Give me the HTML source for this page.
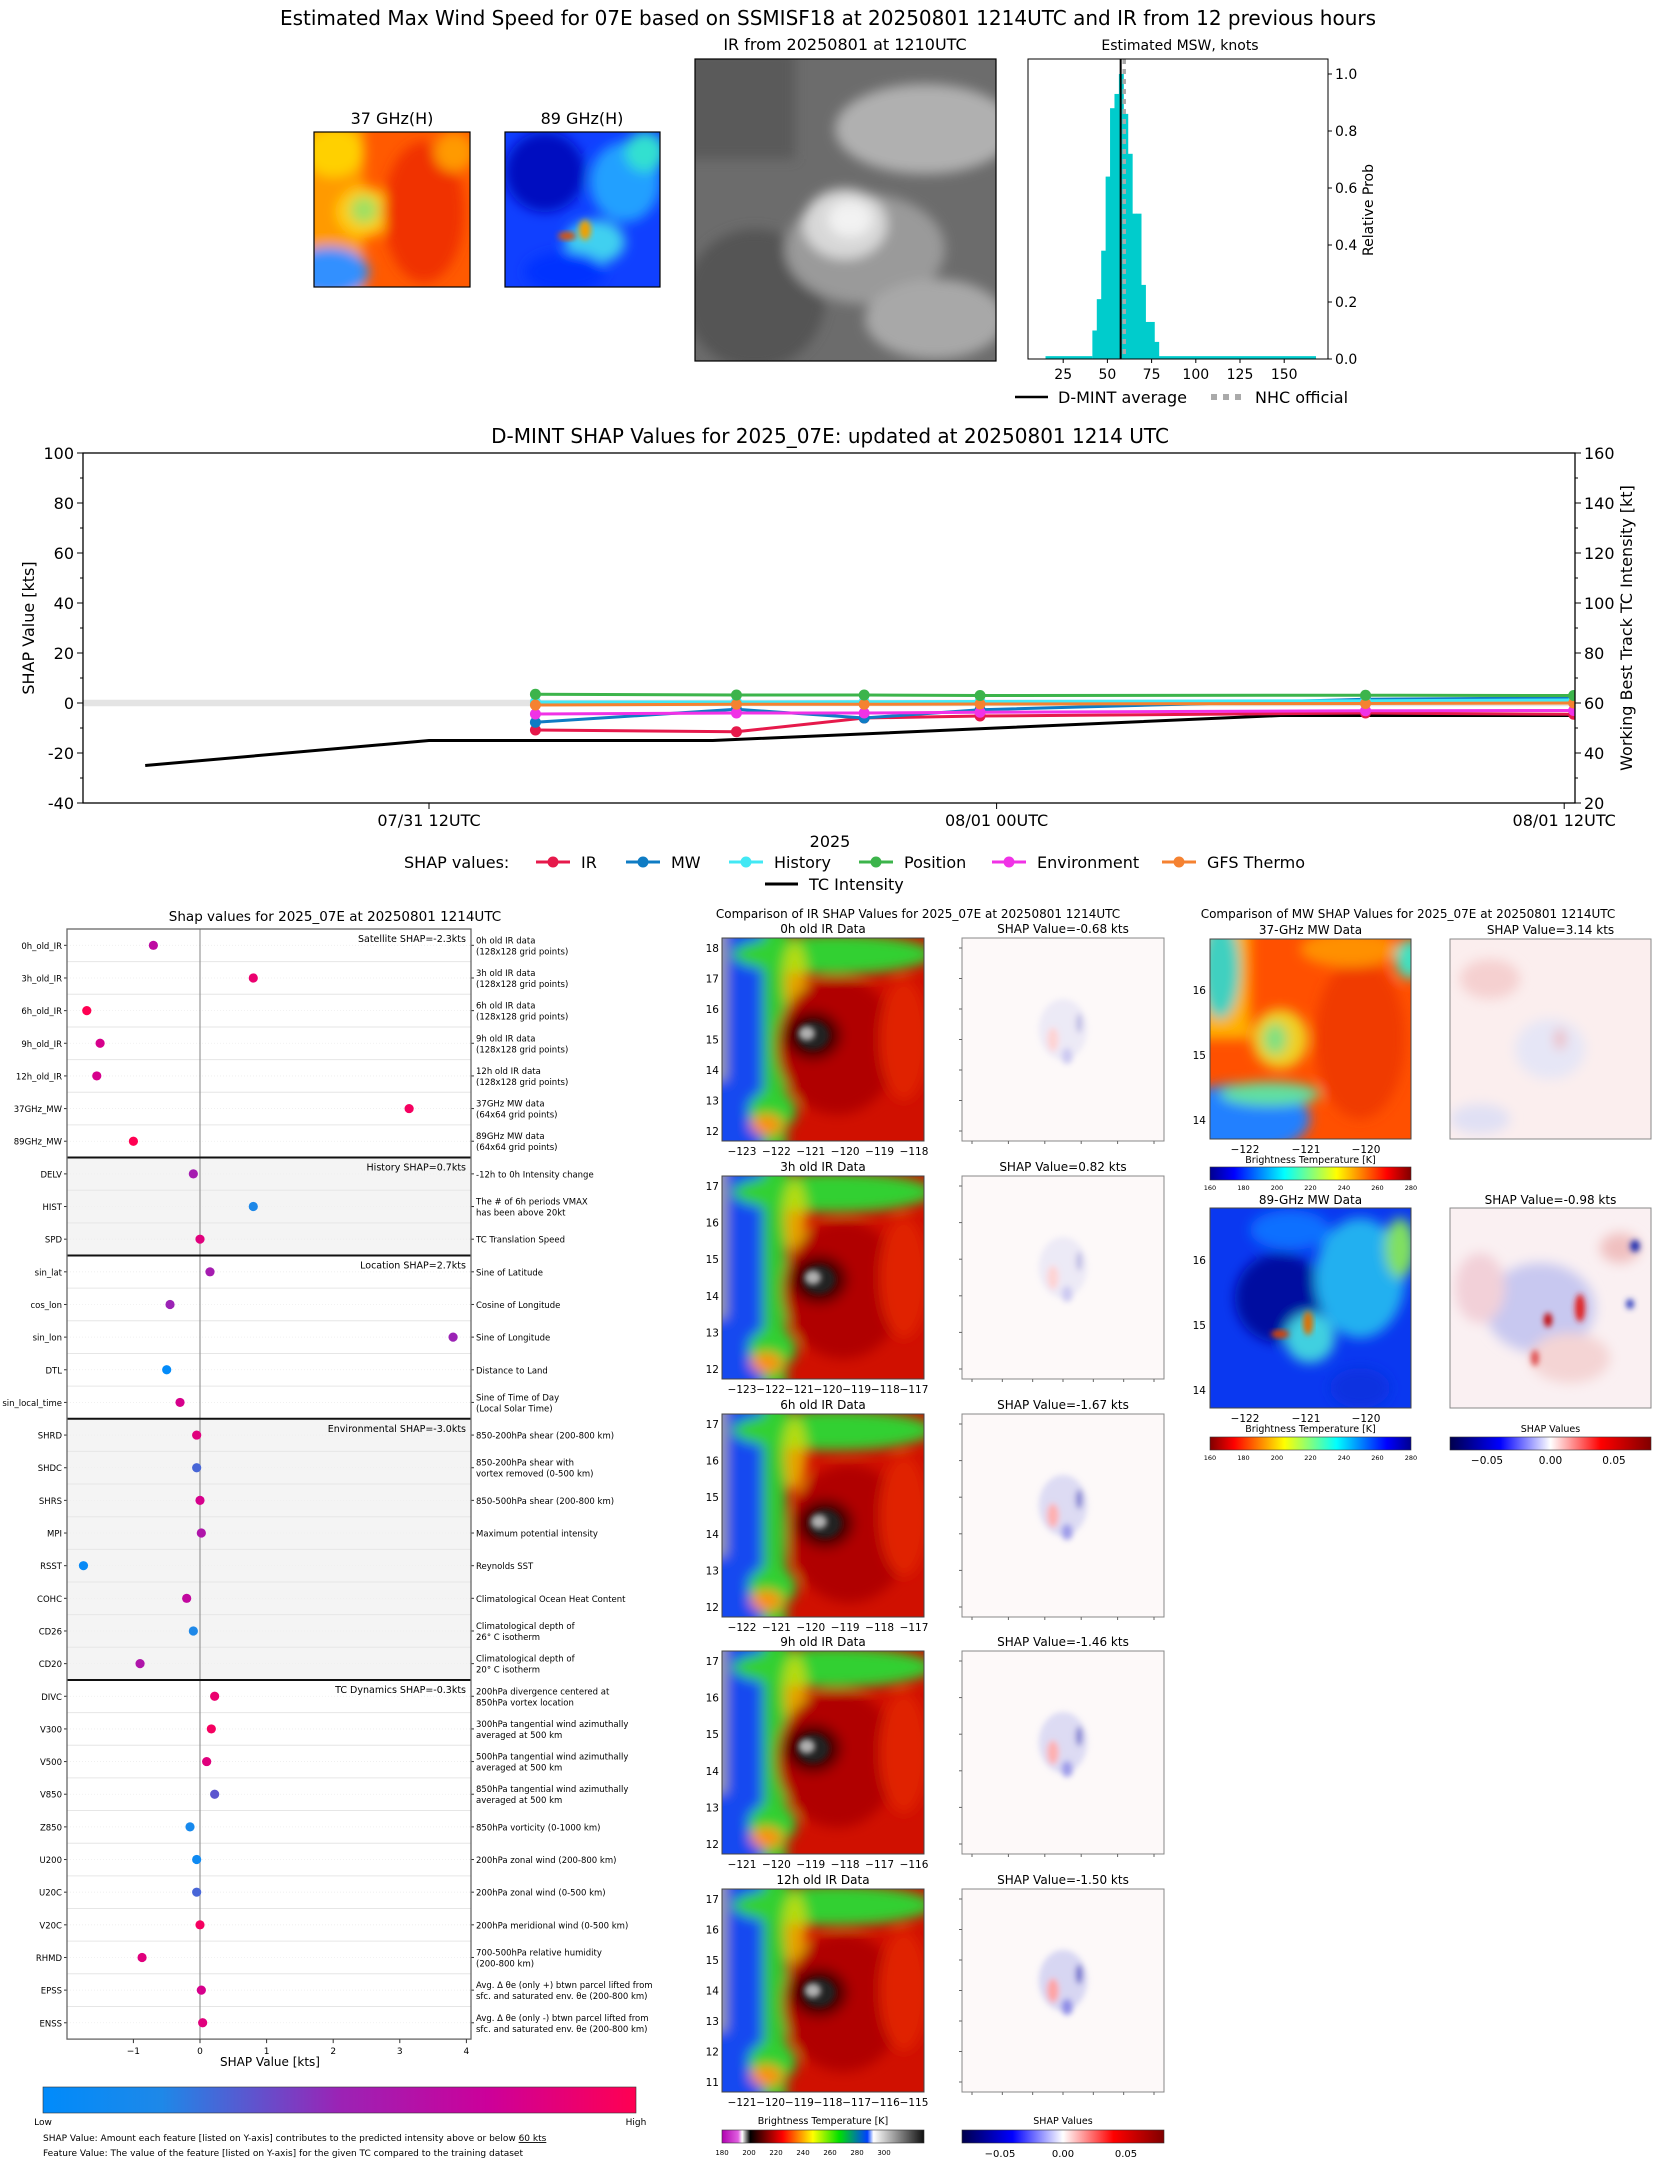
<!DOCTYPE html>
<html><head><meta charset="utf-8">
<style>
html,body{margin:0;padding:0;background:#fff;}
svg{display:block;font-family:"DejaVu Sans","Liberation Sans",sans-serif;}
</style></head>
<body>
<svg id="fig" xmlns="http://www.w3.org/2000/svg" width="1655" height="2158" viewBox="0 0 1655 2158">
<defs>
  <filter id="blur6" x="-30%" y="-30%" width="160%" height="160%"><feGaussianBlur stdDeviation="6"/></filter>
  <filter id="blur3" x="-30%" y="-30%" width="160%" height="160%"><feGaussianBlur stdDeviation="3"/></filter>
  <linearGradient id="cbShap" x1="0" x2="1" y1="0" y2="0">
    <stop offset="0" stop-color="#008bfb"/><stop offset="0.2" stop-color="#1e88e8"/><stop offset="0.5" stop-color="#9b23b5"/><stop offset="0.75" stop-color="#cc009a"/><stop offset="1" stop-color="#ff0052"/>
  </linearGradient>
  <linearGradient id="cbIR" x1="0" x2="1" y1="0" y2="0">
    <stop offset="0" stop-color="#b000b0"/><stop offset="0.08" stop-color="#e060e0"/><stop offset="0.1" stop-color="#ffffff"/><stop offset="0.14" stop-color="#000000"/><stop offset="0.3" stop-color="#ff0000"/><stop offset="0.45" stop-color="#ffff00"/><stop offset="0.58" stop-color="#00e000"/><stop offset="0.72" stop-color="#0040ff"/><stop offset="0.75" stop-color="#ffffff"/><stop offset="1" stop-color="#101010"/>
  </linearGradient>
  <linearGradient id="cbSV" x1="0" x2="1" y1="0" y2="0">
    <stop offset="0" stop-color="#00004c"/><stop offset="0.25" stop-color="#0000ff"/><stop offset="0.5" stop-color="#ffffff"/><stop offset="0.75" stop-color="#ff0000"/><stop offset="1" stop-color="#800000"/>
  </linearGradient>
  <linearGradient id="cbJet" x1="0" x2="1" y1="0" y2="0">
    <stop offset="0" stop-color="#00008f"/><stop offset="0.12" stop-color="#0000ff"/><stop offset="0.37" stop-color="#00ffff"/><stop offset="0.5" stop-color="#80ff80"/><stop offset="0.63" stop-color="#ffff00"/><stop offset="0.88" stop-color="#ff0000"/><stop offset="1" stop-color="#800000"/>
  </linearGradient>
  <linearGradient id="cbJetR" x1="1" x2="0" y1="0" y2="0">
    <stop offset="0" stop-color="#00008f"/><stop offset="0.12" stop-color="#0000ff"/><stop offset="0.37" stop-color="#00ffff"/><stop offset="0.5" stop-color="#80ff80"/><stop offset="0.63" stop-color="#ffff00"/><stop offset="0.88" stop-color="#ff0000"/><stop offset="1" stop-color="#800000"/>
  </linearGradient>
  <clipPath id="clipTS"><rect x="83" y="453" width="1492" height="350"/></clipPath>
</defs>

<text x="828" y="25" font-size="20" text-anchor="middle">Estimated Max Wind Speed for 07E based on SSMISF18 at 20250801 1214UTC and IR from 12 previous hours</text>

<text x="392" y="124" font-size="16" text-anchor="middle">37 GHz(H)</text>
<g>
  <svg x="314" y="132" width="156" height="155" overflow="hidden">
    <rect width="156" height="155" fill="#ff5a00"/>
    <g filter="url(#blur6)">
      <rect x="-10" y="-10" width="60" height="180" fill="#ff9a00"/>
      <ellipse cx="20" cy="20" rx="30" ry="25" fill="#ffd000"/>
      <ellipse cx="50" cy="80" rx="28" ry="25" fill="#ffcc10"/>
      <ellipse cx="50" cy="78" rx="14" ry="14" fill="#a0e060"/>
      <ellipse cx="15" cy="140" rx="40" ry="25" fill="#3090ff"/>
      <ellipse cx="110" cy="80" rx="40" ry="70" fill="#f03000"/>
      <ellipse cx="140" cy="20" rx="20" ry="20" fill="#ff9a00"/>
    </g>
  </svg>
  <rect x="314" y="132" width="156" height="155" fill="none" stroke="#000" stroke-width="1.2"/>
</g>
<text x="582" y="124" font-size="16" text-anchor="middle">89 GHz(H)</text>
<g>
  <svg x="505" y="132" width="155" height="155" overflow="hidden">
    <rect width="155" height="155" fill="#1040ff"/>
    <g filter="url(#blur6)">
      <ellipse cx="40" cy="40" rx="40" ry="40" fill="#0010c0"/>
      <ellipse cx="120" cy="50" rx="35" ry="40" fill="#20a0ff"/>
      <ellipse cx="90" cy="110" rx="30" ry="22" fill="#40d0f0"/>
      <ellipse cx="140" cy="20" rx="20" ry="20" fill="#30e0d0"/>
      <ellipse cx="60" cy="140" rx="40" ry="20" fill="#0030ff"/>
    </g>
    <ellipse cx="62" cy="104" rx="9" ry="4" fill="#e05000" filter="url(#blur3)"/>
    <ellipse cx="80" cy="98" rx="6" ry="10" fill="#f0a000" filter="url(#blur3)"/>
  </svg>
  <rect x="505" y="132" width="155" height="155" fill="none" stroke="#000" stroke-width="1.2"/>
</g>
<text x="845" y="50" font-size="16" text-anchor="middle">IR from 20250801 at 1210UTC</text>
<g>
  <svg x="695" y="59" width="301" height="302" overflow="hidden">
    <rect width="301" height="302" fill="#6c6c6c"/>
    <g filter="url(#blur6)">
      <rect x="-10" y="-10" width="110" height="110" fill="#5a5a5a"/>
      <ellipse cx="60" cy="240" rx="70" ry="70" fill="#555"/>
      <ellipse cx="230" cy="70" rx="90" ry="45" fill="#b0b0b0"/>
      <ellipse cx="170" cy="190" rx="80" ry="55" fill="#9a9a9a"/>
      <ellipse cx="150" cy="165" rx="42" ry="35" fill="#d8d8d8"/>
      <ellipse cx="155" cy="160" rx="22" ry="18" fill="#f2f2f2"/>
      <ellipse cx="240" cy="260" rx="70" ry="40" fill="#a8a8a8"/>
    </g>
  </svg>
  <rect x="695" y="59" width="301" height="302" fill="none" stroke="#000" stroke-width="1.2"/>
</g>

<g id="hist"></g>
<text x="1180" y="50" font-size="14" text-anchor="middle">Estimated MSW, knots</text>
<text x="1373" y="210" font-size="14" text-anchor="middle" transform="rotate(-90 1373 210)">Relative Prob</text>
<g>
  <line x1="1015" y1="397" x2="1048" y2="397" stroke="#000" stroke-width="2.5"/>
  <text x="1058" y="403" font-size="16">D-MINT average</text>
  <line x1="1211" y1="397" x2="1244" y2="397" stroke="#aaa" stroke-width="6" stroke-dasharray="6,6"/>
  <text x="1255" y="403" font-size="16">NHC official</text>
</g>

<text x="830" y="443" font-size="20" text-anchor="middle">D-MINT SHAP Values for 2025_07E: updated at 20250801 1214 UTC</text>
<g id="ts"></g>
<text x="34" y="628" font-size="16" text-anchor="middle" transform="rotate(-90 34 628)">SHAP Value [kts]</text>
<text x="1632" y="628" font-size="16" text-anchor="middle" transform="rotate(-90 1632 628)">Working Best Track TC Intensity [kt]</text>
<text x="830" y="847" font-size="16" text-anchor="middle">2025</text>
<g id="tsLegend">
  <text x="404" y="868" font-size="16">SHAP values:</text>
</g>

<text x="335" y="921" font-size="13.5" text-anchor="middle">Shap values for 2025_07E at 20250801 1214UTC</text>
<g id="feat"></g>
<text x="270" y="2066" font-size="12" text-anchor="middle">SHAP Value [kts]</text>
<rect x="43" y="2087" width="593" height="26" fill="url(#cbShap)" stroke="#333" stroke-width="0.6"/>
<text x="43" y="2125" font-size="9" text-anchor="middle">Low</text>
<text x="636" y="2125" font-size="9" text-anchor="middle">High</text>
<text x="43" y="2141" font-size="9">SHAP Value: Amount each feature [listed on Y-axis] contributes to the predicted intensity above or below <tspan text-decoration="underline">60 kts</tspan></text>
<text x="43" y="2156" font-size="9">Feature Value: The value of the feature [listed on Y-axis] for the given TC compared to the training dataset</text>

<text x="918" y="918" font-size="12" text-anchor="middle">Comparison of IR SHAP Values for 2025_07E at 20250801 1214UTC</text>
<g id="irc"></g>
<text x="823" y="2124" font-size="9.5" text-anchor="middle">Brightness Temperature [K]</text>
<rect x="722" y="2130" width="202" height="13" fill="url(#cbIR)" stroke="#333" stroke-width="0.6"/>
<g font-size="7" text-anchor="middle">
  <text x="722" y="2155">180</text><text x="749" y="2155">200</text><text x="776" y="2155">220</text><text x="803" y="2155">240</text><text x="830" y="2155">260</text><text x="857" y="2155">280</text><text x="884" y="2155">300</text>
</g>
<text x="1063" y="2124" font-size="9.5" text-anchor="middle">SHAP Values</text>
<rect x="962" y="2130" width="202" height="13" fill="url(#cbSV)" stroke="#333" stroke-width="0.6"/>
<g font-size="10" text-anchor="middle">
  <text x="1000" y="2157">−0.05</text><text x="1063" y="2157">0.00</text><text x="1126" y="2157">0.05</text>
</g>

<text x="1408" y="918" font-size="12" text-anchor="middle">Comparison of MW SHAP Values for 2025_07E at 20250801 1214UTC</text>
<g id="mwc"></g>
</svg>

<script>
// ---------- data ----------
const histStart = 41.5;
const histWidth = 2.5;
const histHeights = [0.10,0.21,0.38,0.64,0.88,0.93,1.0,0.86,0.72,0.51,0.51,0.26,0.13,0.13,0.06];
const histTailLow = [15, 41.5];
const histTailHigh = [79, 168];
const histTailHeight = 0.01;
const dmintAverage = 57.5;
const nhcOfficial = 59.5;
const histXTicks = [25,50,75,100,125,150];
const histYTicks = [0.0,0.2,0.4,0.6,0.8,1.0];

const tsXTickHours = [0,12,24];
const tsXTickLabels = ['07/31 12UTC','08/01 00UTC','08/01 12UTC'];
const tsYTicks = [-40,-20,0,20,40,60,80,100];
const tsY2Ticks = [20,40,60,80,100,120,140,160];
const intensityHours = [-6,0,6,12,18,24.2];
const intensityKt = [35,45,45,50,55,55];
const shapHours = [2.25,6.5,9.2,11.65,19.8,24.2];
const shapIR = [-10.8,-11.5,-6.0,-5.2,-4.0,-4.5];
const shapMW = [-7.7,-2.5,-6.0,-2.7,1.5,2.0];
const shapHistory = [0.4,0.4,0.5,0.6,0.9,1.2];
const shapPosition = [3.5,3.2,3.2,3.0,3.1,3.0];
const shapEnvironment = [-4.4,-4.0,-4.0,-3.7,-3.1,-3.0];
const shapGFS = [-0.8,-0.5,-0.5,-0.4,-0.2,0.0];
const seriesNames = ['IR','MW','History','Position','Environment','GFS Thermo'];

const featureNames = ['0h_old_IR','3h_old_IR','6h_old_IR','9h_old_IR','12h_old_IR','37GHz_MW','89GHz_MW','DELV','HIST','SPD','sin_lat','cos_lon','sin_lon','DTL','sin_local_time','SHRD','SHDC','SHRS','MPI','RSST','COHC','CD26','CD20','DIVC','V300','V500','V850','Z850','U200','U20C','V20C','RHMD','EPSS','ENSS'];
const featureShap = [-0.7,0.8,-1.7,-1.5,-1.55,3.14,-1.0,-0.1,0.8,0.0,0.15,-0.45,3.8,-0.5,-0.3,-0.05,-0.05,0.0,0.02,-1.75,-0.2,-0.1,-0.9,0.22,0.17,0.1,0.22,-0.15,-0.05,-0.05,0.0,-0.87,0.02,0.04];
const featureValue = [0.68,0.9,1.0,0.8,0.8,0.95,1.0,0.55,0.2,0.85,0.55,0.5,0.5,0.02,0.8,0.85,0.3,0.8,0.6,0.05,0.7,0.2,0.6,0.9,0.95,0.85,0.35,0.15,0.1,0.3,0.95,0.85,0.8,0.85];
const featureDesc = ['0h old IR data|(128x128 grid points)','3h old IR data|(128x128 grid points)','6h old IR data|(128x128 grid points)','9h old IR data|(128x128 grid points)','12h old IR data|(128x128 grid points)','37GHz MW data|(64x64 grid points)','89GHz MW data|(64x64 grid points)','-12h to 0h Intensity change','The # of 6h periods VMAX|has been above 20kt','TC Translation Speed','Sine of Latitude','Cosine of Longitude','Sine of Longitude','Distance to Land','Sine of Time of Day|(Local Solar Time)','850-200hPa shear (200-800 km)','850-200hPa shear with|vortex removed (0-500 km)','850-500hPa shear (200-800 km)','Maximum potential intensity','Reynolds SST','Climatological Ocean Heat Content','Climatological depth of|26° C isotherm','Climatological depth of|20° C isotherm','200hPa divergence centered at|850hPa vortex location','300hPa tangential wind azimuthally|averaged at 500 km','500hPa tangential wind azimuthally|averaged at 500 km','850hPa tangential wind azimuthally|averaged at 500 km','850hPa vorticity (0-1000 km)','200hPa zonal wind (200-800 km)','200hPa zonal wind (0-500 km)','200hPa meridional wind (0-500 km)','700-500hPa relative humidity|(200-800 km)','Avg. Δ θe (only +) btwn parcel lifted from|sfc. and saturated env. θe (200-800 km)','Avg. Δ θe (only -) btwn parcel lifted from|sfc. and saturated env. θe (200-800 km)'];
const groupStarts = [0,7,10,15,23];
const groupLabels = ['Satellite SHAP=-2.3kts','History SHAP=0.7kts','Location SHAP=2.7kts','Environmental SHAP=-3.0kts','TC Dynamics SHAP=-0.3kts'];
const groupShaded = [false,true,false,true,false];
const featureXTicks = [-1,0,1,2,3,4];

const irTitles = ['0h old IR Data','3h old IR Data','6h old IR Data','9h old IR Data','12h old IR Data'];
const irShapTitles = ['SHAP Value=-0.68 kts','SHAP Value=0.82 kts','SHAP Value=-1.67 kts','SHAP Value=-1.46 kts','SHAP Value=-1.50 kts'];
const irYTicks = [[18,17,16,15,14,13,12],[17,16,15,14,13,12],[17,16,15,14,13,12],[17,16,15,14,13,12],[17,16,15,14,13,12,11]];
const irXTicks = [[-123,-122,-121,-120,-119,-118],[-123,-122,-121,-120,-119,-118,-117],[-122,-121,-120,-119,-118,-117],[-121,-120,-119,-118,-117,-116],[-121,-120,-119,-118,-117,-116,-115]];
const irShapStrength = [0.3,0.3,0.6,0.6,0.7];

// ---------- helpers ----------
const NS = 'http://www.w3.org/2000/svg';
const svg = document.getElementById('fig');
function mk(tag, attrs, parent){ const e = document.createElementNS(NS, tag); for (const k in attrs) e.setAttribute(k, attrs[k]); parent.appendChild(e); return e; }
function tx(parent, x, y, s, size, anchor){ const e = mk('text', {x:x, y:y, 'font-size':size, 'text-anchor':anchor||'start'}, parent); e.textContent = s; return e; }
const minus = v => String(v).replace('-', '\u2212');

// ---------- histogram ----------
(function(){
  const g = document.getElementById('hist');
  const L=1028, R=1328, T=59, B=359;
  const hx = k => 1019 + k*1.768;
  const hy = p => B - p*285;
  let r;
  r = mk('rect', {x:hx(histTailLow[0]), y:hy(histTailHeight), width:hx(histTailLow[1])-hx(histTailLow[0]), height:B-hy(histTailHeight), fill:'#00cccc'}, g);
  
  
  r = mk('rect', {x:hx(histTailHigh[0]), y:hy(histTailHeight), width:hx(histTailHigh[1])-hx(histTailHigh[0]), height:B-hy(histTailHeight), fill:'#00cccc'}, g);
  
  
  histHeights.forEach((h,i)=>{
    const a = histStart + i*histWidth;
    const b = mk('rect', {x:hx(a), y:hy(h), width:hx(a+histWidth)-hx(a)+0.5, height:B-hy(h), fill:'#00cccc'}, g);
    
    
  });
  const nl = mk('line', {x1:hx(nhcOfficial), x2:hx(nhcOfficial), y1:T, y2:B, stroke:'#aaa', 'stroke-width':3.5, 'stroke-dasharray':'5,5'}, g);
  
  
  const ml = mk('line', {x1:hx(dmintAverage), x2:hx(dmintAverage), y1:T, y2:B, stroke:'#000', 'stroke-width':2}, g);
  
  
  const fr = mk('rect', {x:L, y:T, width:R-L, height:B-T, fill:'none', stroke:'#000', 'stroke-width':1}, g);
  
  
  histXTicks.forEach(v=>{
    mk('line', {x1:hx(v), x2:hx(v), y1:B, y2:B+4, stroke:'#000'}, g);
    const t = tx(g, hx(v), B+20, String(v), 14, 'middle');
    
    
  });
  histYTicks.forEach(v=>{
    mk('line', {x1:R, x2:R+4, y1:hy(v), y2:hy(v), stroke:'#000'}, g);
    const t = tx(g, R+7, hy(v)+5, v.toFixed(1), 14, 'start');
    
    
  });
})();

// ---------- time series ----------
(function(){
  const g = document.getElementById('ts');
  const L=83, R=1575, T=453, B=803;
  const X = h => 429 + h*47.3;
  const Y = v => T + (100 - v)*2.5;
  const Y2 = kt => Y(kt - 60);
  const band = mk('rect', {x:L, y:Y(1.3), width:R-L, height:Y(-1.3)-Y(1.3), fill:'#e4e4e4'}, g);
  
  
  const clip = mk('g', {'clip-path':'url(#clipTS)'}, g);
  const ip = mk('polyline', {points:intensityHours.map((h,i)=>X(h)+','+Y2(intensityKt[i])).join(' '), fill:'none', stroke:'#000', 'stroke-width':3}, clip);
  
  
  const series = [shapIR, shapMW, shapHistory, shapPosition, shapEnvironment, shapGFS];
  const colors = ['#e6194b','#0f7cc4','#42e8f4','#3cb44b','#f032e6','#f58231'];
  const order = [0,1,4,2,5,3];
  order.forEach(si=>{
    const vals = series[si];
    const sg = mk('g', {}, clip);
    
    
    mk('polyline', {points:shapHours.map((h,i)=>X(h)+','+Y(vals[i])).join(' '), fill:'none', stroke:colors[si], 'stroke-width':3}, sg);
    shapHours.forEach((h,i)=>{
      const c = mk('circle', {cx:X(h), cy:Y(vals[i]), r:5.5, fill:colors[si]}, sg);
      
      
    });
  });
  const fr = mk('rect', {x:L, y:T, width:R-L, height:B-T, fill:'none', stroke:'#000', 'stroke-width':1.3}, g);
  
  
  for (let v=-40; v<=100; v+=10){ mk('line', {x1:L-(v%20===0?6:3), x2:L, y1:Y(v), y2:Y(v), stroke:'#000'}, g); }
  for (let k=20; k<=160; k+=10){ mk('line', {x1:R, x2:R+(k%20===0?6:3), y1:Y2(k), y2:Y2(k), stroke:'#000'}, g); }
  tsYTicks.forEach(v=>{
    const t = tx(g, L-9, Y(v)+6, String(v), 16, 'end');
    
    
  });
  tsY2Ticks.forEach(v=>{
    const t = tx(g, R+9, Y2(v)+6, String(v), 16, 'start');
    
    
  });
  tsXTickHours.forEach((h,i)=>{
    mk('line', {x1:X(h), x2:X(h), y1:B, y2:B+6, stroke:'#000'}, g);
    const t = tx(g, X(h), B+23, tsXTickLabels[i], 16, 'middle');
    
    
  });
  const lg = document.getElementById('tsLegend');
  const lx = [536,626,729,859,992,1162];
  seriesNames.forEach((n,i)=>{
    const e = mk('g', {}, lg);
    
    
    mk('line', {x1:lx[i], x2:lx[i]+34, y1:862, y2:862, stroke:colors[i], 'stroke-width':3}, e);
    mk('circle', {cx:lx[i]+17, cy:862, r:5.5, fill:colors[i]}, e);
    tx(e, lx[i]+45, 868, n, 16, 'start');
  });
  const ti = mk('g', {}, lg);
  
  
  mk('line', {x1:765, x2:798, y1:884, y2:884, stroke:'#000', 'stroke-width':3}, ti);
  tx(ti, 809, 890, 'TC Intensity', 16, 'start');
})();

// ---------- feature panel ----------
(function(){
  const g = document.getElementById('feat');
  const L=67, R=471, T=929, rowH=32.65;
  const B = T + rowH*featureNames.length;
  const X = v => 200 + v*66.6;
  const rowY = i => T + rowH*(i+0.5);
  const stops = [[0,[0,139,251]],[0.2,[30,136,232]],[0.5,[155,35,181]],[0.75,[204,0,154]],[1,[255,0,82]]];
  function cmap(v){ for (let k=1;k<stops.length;k++){ if (v<=stops[k][0]){ const a=stops[k-1], b=stops[k]; const f=(v-a[0])/(b[0]-a[0]); return 'rgb('+a[1].map((c,j)=>Math.round(c+(b[1][j]-c)*f)).join(',')+')'; } } return 'rgb(255,0,82)'; }
  groupStarts.forEach((s,gi)=>{
    const e = gi+1<groupStarts.length ? groupStarts[gi+1] : featureNames.length;
    if (groupShaded[gi]){
      const r = mk('rect', {x:L, y:T+s*rowH, width:R-L, height:(e-s)*rowH, fill:'#f4f4f4'}, g);
      
      
    }
  });
  featureNames.forEach((n,i)=>{
    mk('line', {x1:L, x2:R, y1:T+rowH*(i+1), y2:T+rowH*(i+1), stroke:'#e6e6e6', 'stroke-width':1}, g);
    mk('line', {x1:L, x2:R, y1:rowY(i), y2:rowY(i), stroke:'#eee', 'stroke-width':0.8, 'stroke-dasharray':'1,2'}, g);
  });
  mk('line', {x1:X(0), x2:X(0), y1:T, y2:B, stroke:'#999', 'stroke-width':1.2}, g);
  groupStarts.forEach((s,gi)=>{
    if (s>0){ const l = mk('line', {x1:L, x2:R, y1:T+s*rowH, y2:T+s*rowH, stroke:'#111', 'stroke-width':2}, g);
      
       }
    const t = tx(g, R-5, T+s*rowH+13, groupLabels[gi], 9.5, 'end');
    
    
  });
  featureNames.forEach((n,i)=>{
    mk('line', {x1:L-3, x2:L, y1:rowY(i), y2:rowY(i), stroke:'#333'}, g);
    const t = tx(g, L-5, rowY(i)+3.5, n, 8.5, 'end');
    
    
    const lines = featureDesc[i].split('|');
    mk('line', {x1:R, x2:R+3, y1:rowY(i), y2:rowY(i), stroke:'#333'}, g);
    lines.forEach((ln,k)=>{
      const d = tx(g, R+5, rowY(i)+3.5 + (k - (lines.length-1)/2)*11, ln, 8.5, 'start');
      
      
    });
    const c = mk('circle', {cx:X(featureShap[i]), cy:rowY(i), r:4.6, fill:cmap(featureValue[i])}, g);
    
    
  });
  const fr = mk('rect', {x:L, y:T, width:R-L, height:B-T, fill:'none', stroke:'#666', 'stroke-width':1.3}, g);
  
  
  featureXTicks.forEach(v=>{
    mk('line', {x1:X(v), x2:X(v), y1:B, y2:B+4, stroke:'#333'}, g);
    const t = tx(g, X(v), B+15, minus(v), 9, 'middle');
    
    
  });
})();

// ---------- satellite image mockups ----------
function irImage(parent, x, y, w, h, variant){
  const s = mk('svg', {x:x, y:y, width:w, height:h, overflow:'hidden'}, parent);
  mk('rect', {width:w, height:h, fill:'#d01000'}, s);
  const b = mk('g', {filter:'url(#blur6)'}, s);
  const cx = w*(0.45 + variant*0.03), cy = h*(0.48 + variant*0.03);
  mk('rect', {x:-20, y:-20, width:w*0.42, height:h+40, fill:'#30c830'}, b);
  mk('rect', {x:-20, y:-20, width:w*0.3, height:h+40, fill:'#1848f0'}, b);
  mk('rect', {x:-20, y:-20, width:w*0.12, height:h*0.8, fill:'#a0a0a0'}, b);
  mk('ellipse', {cx:w*0.55, cy:h*0.08, rx:w*0.5, ry:h*0.1, fill:'#30d030'}, b);
  mk('ellipse', {cx:w*0.25, cy:h*0.85, rx:w*0.12, ry:h*0.1, fill:'#30d030'}, b);
  mk('ellipse', {cx:w*0.22, cy:h*0.92, rx:w*0.08, ry:h*0.05, fill:'#ff9000'}, b);
  mk('ellipse', {cx:w*0.36, cy:h*0.2, rx:w*0.06, ry:h*0.18, fill:'#f0e000', opacity:0.7}, b);
  mk('ellipse', {cx:cx+w*0.12, cy:cy+h*0.05, rx:w*0.3, ry:h*0.34, fill:'#b00000'}, b);
  mk('ellipse', {cx:cx, cy:cy, rx:w*0.14, ry:h*0.12, fill:'#500000'}, b);
  mk('ellipse', {cx:w*0.9, cy:h*0.5, rx:w*0.12, ry:h*0.3, fill:'#e02000'}, b);
  mk('ellipse', {cx:cx, cy:cy, rx:w*0.08, ry:h*0.07, fill:'#202020', filter:'url(#blur3)'}, s);
  mk('ellipse', {cx:cx-w*0.03, cy:cy-h*0.01, rx:w*0.04, ry:h*0.035, fill:'#b0b0b0', filter:'url(#blur3)'}, s);
  return s;
}
function shapImage(parent, x, y, w, h, strength){
  const s = mk('svg', {x:x, y:y, width:w, height:h, overflow:'hidden'}, parent);
  mk('rect', {width:w, height:h, fill:'#fdf9f9'}, s);
  const b = mk('g', {filter:'url(#blur3)', opacity:strength}, s);
  mk('ellipse', {cx:w*0.5, cy:h*0.45, rx:w*0.12, ry:h*0.15, fill:'#c8c8f0'}, b);
  mk('ellipse', {cx:w*0.45, cy:h*0.5, rx:w*0.03, ry:h*0.06, fill:'#ff8080'}, b);
  mk('ellipse', {cx:w*0.58, cy:h*0.42, rx:w*0.02, ry:h*0.05, fill:'#3030c0'}, b);
  mk('ellipse', {cx:w*0.52, cy:h*0.58, rx:w*0.03, ry:h*0.04, fill:'#6060e0'}, b);
  return s;
}
(function(){
  const g = document.getElementById('irc');
  const tops = [938,1176,1414,1651,1889];
  const H = 203, W = 202, x1 = 722, x2 = 962;
  tops.forEach((t,i)=>{
    const e = mk('g', {}, g);
    
    
    const tt = tx(e, x1+W/2, t-5, irTitles[i], 12, 'middle');
    
    
    const st = tx(e, x2+W/2, t-5, irShapTitles[i], 12, 'middle');
    
    
    irImage(e, x1, t, W, H, i%3);
    shapImage(e, x2, t, W, H, irShapStrength[i]);
    mk('rect', {x:x1, y:t, width:W, height:H, fill:'none', stroke:'#444'}, e);
    mk('rect', {x:x2, y:t, width:W, height:H, fill:'none', stroke:'#888'}, e);
    const yt = irYTicks[i];
    yt.forEach((v,k)=>{
      const yy = t + 10 + k*(H-20)/(yt.length-1);
      tx(e, x1-3, yy+4, String(v), 10.5, 'end');
      mk('line', {x1:x2-3, x2:x2, y1:yy, y2:yy, stroke:'#666'}, e);
    });
    const xt = irXTicks[i];
    xt.forEach((v,k)=>{
      const xx = x1 + 20 + k*(W-30)/(xt.length-1);
      tx(e, xx, t+H+14, minus(v), 10.5, 'middle');
      const sx = x2+10+k*(W-20)/(xt.length-1);
      mk('line', {x1:sx, x2:sx, y1:t+H, y2:t+H+3, stroke:'#666'}, e);
    });
  });
})();
(function(){
  const g = document.getElementById('mwc');
  const x1 = 1210, x2 = 1450, W = 201;
  const a = mk('g', {}, g);
  
  
  tx(a, x1+W/2, 934, '37-GHz MW Data', 12, 'middle');
  tx(a, x2+W/2, 934, 'SHAP Value=3.14 kts', 12, 'middle');
  let s = mk('svg', {x:x1, y:939, width:W, height:200, overflow:'hidden'}, a);
  mk('rect', {width:W, height:200, fill:'#ff5000'}, s);
  let b = mk('g', {filter:'url(#blur6)'}, s);
  mk('rect', {x:-20, y:-20, width:60, height:120, fill:'#ffb000'}, b);
  mk('ellipse', {cx:10, cy:30, rx:20, ry:50, fill:'#40d0c0'}, b);
  mk('ellipse', {cx:70, cy:100, rx:28, ry:30, fill:'#f0d020'}, b);
  mk('ellipse', {cx:65, cy:100, rx:12, ry:16, fill:'#80e080'}, b);
  mk('ellipse', {cx:30, cy:180, rx:70, ry:35, fill:'#2080ff'}, b);
  mk('ellipse', {cx:60, cy:155, rx:50, ry:12, fill:'#60e0a0'}, b);
  mk('ellipse', {cx:150, cy:100, rx:45, ry:80, fill:'#f03a00'}, b);
  mk('ellipse', {cx:140, cy:10, rx:50, ry:18, fill:'#ff9000'}, b);
  mk('ellipse', {cx:200, cy:20, rx:15, ry:20, fill:'#40e0c0'}, b);
  mk('rect', {x:x1, y:939, width:W, height:200, fill:'none', stroke:'#444'}, a);
  s = mk('svg', {x:x2, y:939, width:W, height:200, overflow:'hidden'}, a);
  mk('rect', {width:W, height:200, fill:'#fbeeee'}, s);
  b = mk('g', {filter:'url(#blur6)'}, s);
  mk('ellipse', {cx:40, cy:40, rx:30, ry:20, fill:'#f5d0d0'}, b);
  mk('ellipse', {cx:100, cy:110, rx:35, ry:30, fill:'#e6e6f6'}, b);
  mk('ellipse', {cx:30, cy:180, rx:30, ry:15, fill:'#e0e0f4'}, b);
  mk('ellipse', {cx:110, cy:100, rx:4, ry:10, fill:'#f0a0a0'}, b);
  mk('rect', {x:x2, y:939, width:W, height:200, fill:'none', stroke:'#888'}, a);
  [['16',990],['15',1055],['14',1120]].forEach(p=>tx(a, x1-4, p[1]+4, p[0], 10.5, 'end'));
  [['\u2212122',1245],['\u2212121',1306],['\u2212120',1366]].forEach(p=>tx(a, p[1], 1153, p[0], 10.5, 'middle'));
  tx(a, x1+W/2, 1163, 'Brightness Temperature [K]', 9.5, 'middle');
  mk('rect', {x:x1, y:1167, width:W, height:13, fill:'url(#cbJet)', stroke:'#333', 'stroke-width':0.6}, a);
  ['160','180','200','220','240','260','280'].forEach((v,k)=>tx(a, x1+k*W/6, 1190, v, 6.5, 'middle'));
  const c = mk('g', {}, g);
  
  
  tx(c, x1+W/2, 1204, '89-GHz MW Data', 12, 'middle');
  tx(c, x2+W/2, 1204, 'SHAP Value=-0.98 kts', 12, 'middle');
  s = mk('svg', {x:x1, y:1208, width:W, height:200, overflow:'hidden'}, c);
  mk('rect', {width:W, height:200, fill:'#0a38f0'}, s);
  b = mk('g', {filter:'url(#blur6)'}, s);
  mk('ellipse', {cx:70, cy:90, rx:45, ry:45, fill:'#0010a0'}, b);
  mk('ellipse', {cx:150, cy:70, rx:45, ry:60, fill:'#20b0f0'}, b);
  mk('ellipse', {cx:100, cy:130, rx:25, ry:25, fill:'#40d0e0'}, b);
  mk('ellipse', {cx:190, cy:40, rx:15, ry:30, fill:'#80e060'}, b);
  mk('ellipse', {cx:150, cy:180, rx:30, ry:20, fill:'#0a30e0'}, b);
  mk('ellipse', {cx:80, cy:22, rx:40, ry:20, fill:'#1070ff'}, b);
  mk('ellipse', {cx:70, cy:126, rx:9, ry:4, fill:'#e04000', filter:'url(#blur3)'}, s);
  mk('ellipse', {cx:98, cy:115, rx:5, ry:12, fill:'#e07000', filter:'url(#blur3)'}, s);
  mk('rect', {x:x1, y:1208, width:W, height:200, fill:'none', stroke:'#444'}, c);
  s = mk('svg', {x:x2, y:1208, width:W, height:200, overflow:'hidden'}, c);
  mk('rect', {width:W, height:200, fill:'#faf0f2'}, s);
  b = mk('g', {filter:'url(#blur6)'}, s);
  mk('ellipse', {cx:90, cy:100, rx:55, ry:45, fill:'#c8c8f0'}, b);
  mk('ellipse', {cx:170, cy:40, rx:20, ry:15, fill:'#f0c0c0'}, b);
  mk('ellipse', {cx:30, cy:80, rx:25, ry:35, fill:'#f2d0d8'}, b);
  mk('ellipse', {cx:120, cy:150, rx:40, ry:25, fill:'#f4d4d4'}, b);
  const sb = mk('g', {filter:'url(#blur3)'}, s);
  mk('ellipse', {cx:98, cy:112, rx:4, ry:7, fill:'#c00000'}, sb);
  mk('ellipse', {cx:130, cy:100, rx:5, ry:14, fill:'#e02020'}, sb);
  mk('ellipse', {cx:185, cy:38, rx:5, ry:6, fill:'#2030b0'}, sb);
  mk('ellipse', {cx:180, cy:96, rx:4, ry:5, fill:'#3040c0'}, sb);
  mk('ellipse', {cx:85, cy:150, rx:4, ry:8, fill:'#e05050'}, sb);
  mk('rect', {x:x2, y:1208, width:W, height:200, fill:'none', stroke:'#888'}, c);
  [['16',1260],['15',1325],['14',1390]].forEach(p=>tx(c, x1-4, p[1]+4, p[0], 10.5, 'end'));
  [['\u2212122',1245],['\u2212121',1306],['\u2212120',1366]].forEach(p=>tx(c, p[1], 1422, p[0], 10.5, 'middle'));
  tx(c, x1+W/2, 1432, 'Brightness Temperature [K]', 9.5, 'middle');
  mk('rect', {x:x1, y:1437, width:W, height:13, fill:'url(#cbJetR)', stroke:'#333', 'stroke-width':0.6}, c);
  ['160','180','200','220','240','260','280'].forEach((v,k)=>tx(c, x1+k*W/6, 1460, v, 6.5, 'middle'));
  tx(c, x2+W/2, 1432, 'SHAP Values', 9.5, 'middle');
  mk('rect', {x:x2, y:1437, width:W, height:13, fill:'url(#cbSV)', stroke:'#333', 'stroke-width':0.6}, c);
  [['\u22120.05',x2+37],['0.00',x2+W/2],['0.05',x2+W-37]].forEach(p=>tx(c, p[1], 1464, p[0], 10.5, 'middle'));
})();
</script>
</body></html>
